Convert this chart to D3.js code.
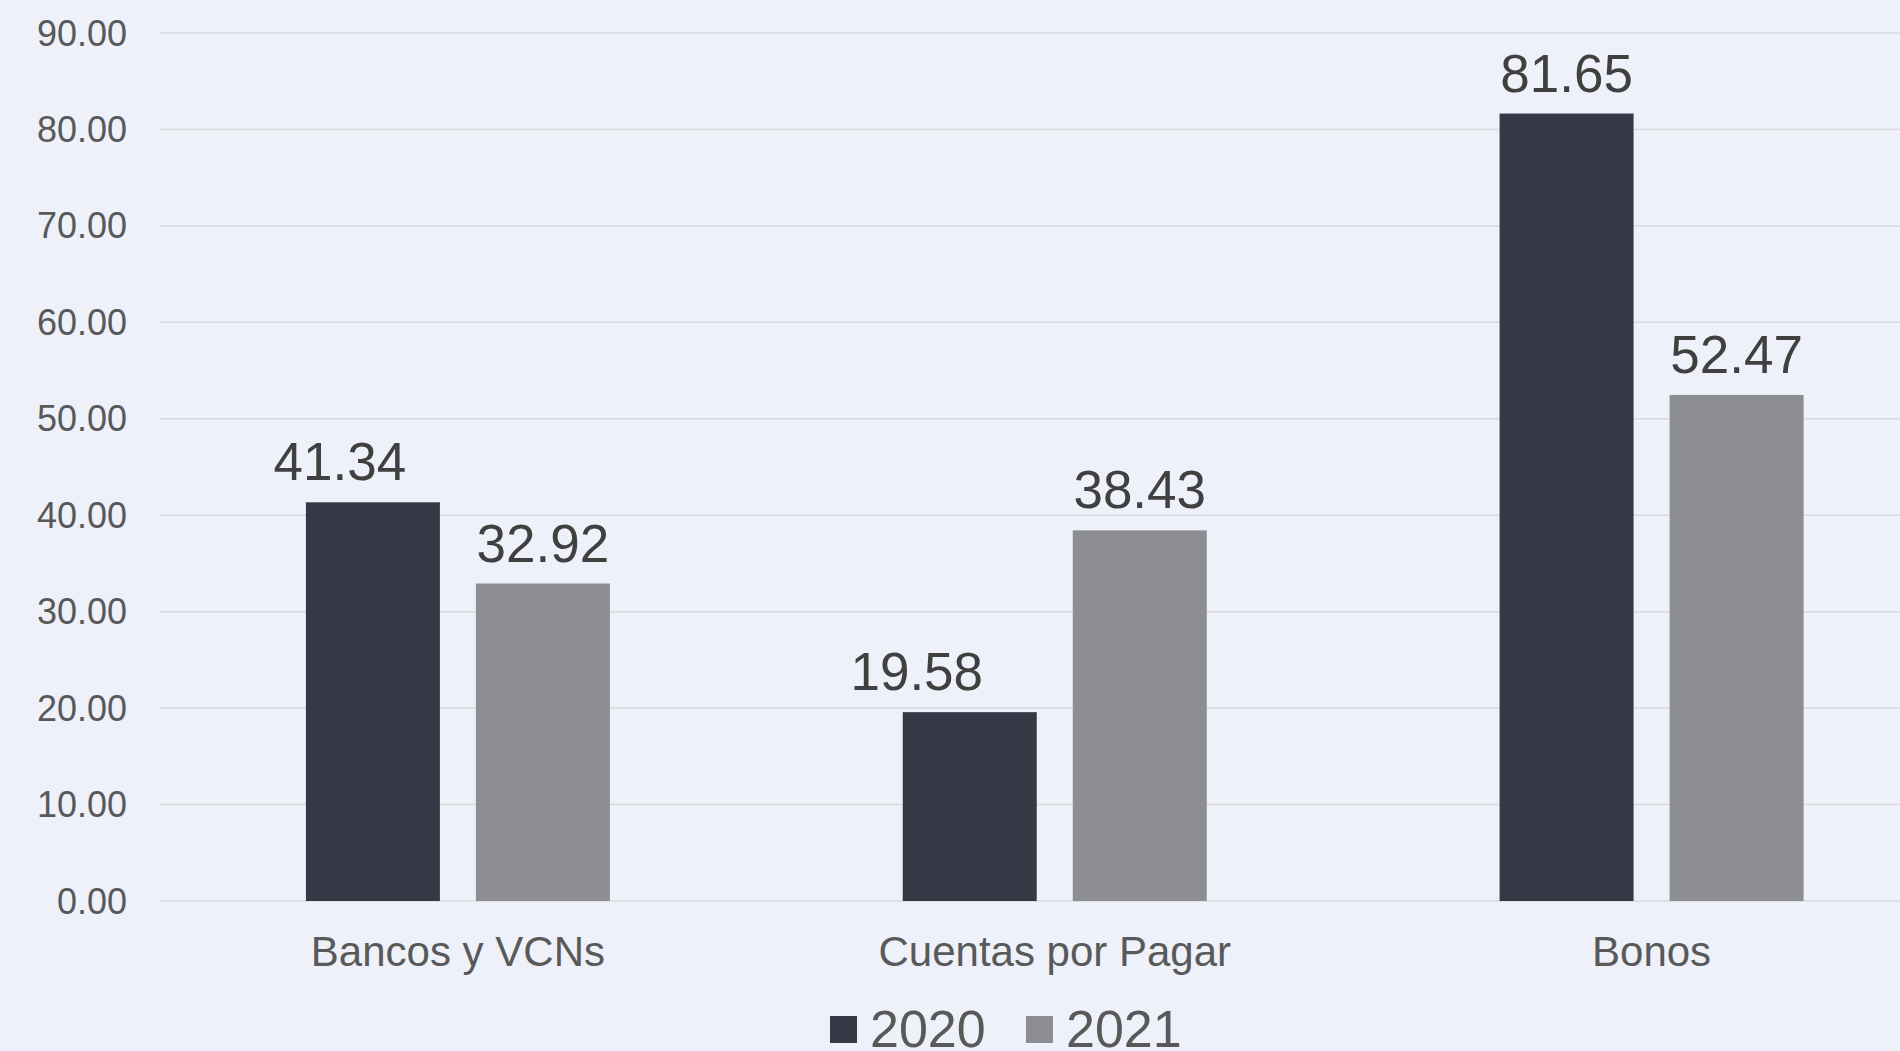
<!DOCTYPE html>
<html>
<head>
<meta charset="utf-8">
<script src="https://cdn.jsdelivr.net/npm/d3@7"></script>
<style>
  html, body { margin: 0; padding: 0; background: #eef1f9; }
  svg { display: block; font-family: "Liberation Sans", Arial, sans-serif; }
</style>
</head>
<body>
<div id="chart"></div>
<script>
const categories = ["Bancos y VCNs", "Cuentas por Pagar", "Bonos"];
const years = ["2020", "2021"];
const values2020 = [41.34, 19.58, 81.65];
const values2021 = [32.92, 38.43, 52.47];
const yTicks = [0, 10, 20, 30, 40, 50, 60, 70, 80, 90];
const colors = ["#363945", "#8d8e92"];

const width = 1900, height = 1051;
const margin = { left: 160, top: 33, bottom: 150 };

// the source nudged some 2020 value labels to the left by hand
const labelNudge = { "Bancos y VCNs|2020": -33, "Cuentas por Pagar|2020": -53 };

const rows = categories.map((c, i) => ({ cat: c, vals: [values2020[i], values2021[i]] }));

const svg = d3.select("#chart").append("svg")
  .attr("width", width)
  .attr("height", height);

svg.append("rect").attr("width", width).attr("height", height).attr("fill", "#eef1f9");

// plot runs past the right edge of the picture, like the source
const x0 = d3.scaleBand().domain(categories).range([159.5, 1950]).padding(0);
const groupW = 304;
const x1 = d3.scaleBand().domain(years).range([0, groupW]).paddingInner(0.2118);
const y = d3.scaleLinear().domain([0, 90]).range([901, 33]);

// gridlines
svg.append("g").selectAll("line")
  .data(yTicks)
  .enter().append("line")
  .attr("x1", margin.left).attr("x2", width)
  .attr("y1", d => y(d)).attr("y2", d => y(d))
  .attr("stroke", "#d9d9d9")
  .attr("stroke-width", 1.5);

// y tick labels
svg.append("g").selectAll("text")
  .data(yTicks)
  .enter().append("text")
  .attr("x", 127)
  .attr("y", d => y(d))
  .attr("dy", "0.35em")
  .attr("text-anchor", "end")
  .attr("font-size", 36)
  .attr("fill", "#595959")
  .text(d => d3.format(".2f")(d));

const groups = svg.append("g").selectAll("g")
  .data(rows)
  .enter().append("g")
  .attr("transform", d => "translate(" + (x0(d.cat) + (x0.bandwidth() - groupW) / 2) + ",0)");

const bars = groups.selectAll("g")
  .data(d => d.vals.map((v, j) => ({ cat: d.cat, year: years[j], v: v, j: j })))
  .enter().append("g");

bars.append("rect")
  .attr("x", d => x1(d.year))
  .attr("y", d => y(d.v))
  .attr("width", x1.bandwidth())
  .attr("height", d => y(0) - y(d.v))
  .attr("fill", d => colors[d.j]);

bars.append("text")
  .attr("x", d => x1(d.year) + x1.bandwidth() / 2 + (labelNudge[d.cat + "|" + d.year] || 0))
  .attr("y", d => y(d.v) - 22)
  .attr("text-anchor", "middle")
  .attr("font-size", 53)
  .attr("fill", "#404040")
  .text(d => d3.format(".2f")(d.v));

// category labels
svg.append("g").selectAll("text")
  .data(categories)
  .enter().append("text")
  .attr("x", d => x0(d) + x0.bandwidth() / 2)
  .attr("y", 966)
  .attr("text-anchor", "middle")
  .attr("font-size", 42)
  .attr("fill", "#595959")
  .text(d => d);

// legend
const legend = svg.append("g");
const legX = [830, 1026];
years.forEach((yr, i) => {
  legend.append("rect")
    .attr("x", legX[i]).attr("y", 1016)
    .attr("width", 27).attr("height", 27)
    .attr("fill", colors[i]);
  legend.append("text")
    .attr("x", legX[i] + 40).attr("y", 1047)
    .attr("font-size", 52)
    .attr("fill", "#595959")
    .text(yr);
});
</script>
</body>
</html>
